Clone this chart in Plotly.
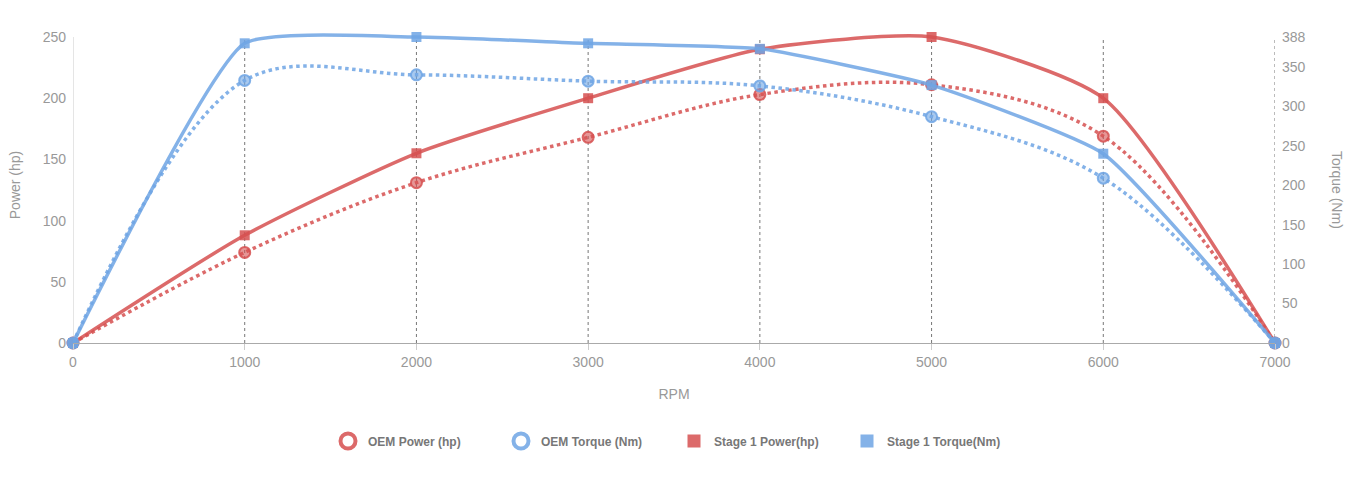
import plotly.graph_objects as go

rpm = [0, 1000, 2000, 3000, 4000, 5000, 6000, 7000]
oem_power = [0, 74, 131, 168, 203, 211, 169, 0]
oem_torque = [0, 333, 340, 332, 326, 287, 209, 0]
stage1_power = [0, 88, 155, 200, 240, 250, 200, 0]
stage1_torque = [0, 380, 388, 380, 373, 327, 240, 0]
power_ticks = [0, 50, 100, 150, 200, 250]
torque_ticks = [0, 50, 100, 150, 200, 250, 300, 350, 388]

RED = "rgba(214,80,80,0.85)"
RED_FILL = "rgba(214,80,80,0.6)"
BLUE = "rgba(110,165,228,0.85)"
BLUE_FILL = "rgba(110,165,228,0.6)"
GRAY = "#999999"
FONT = "Liberation Sans, Arial, sans-serif"

# plot area: headroom above the top tick so the smoothed lines are not clipped
TOP_PX, BOTTOM_PX, HEAD = 37, 343, 10
H = BOTTOM_PX - TOP_PX
pmax, tmax = max(power_ticks), max(torque_ticks)
prange = pmax * (H + HEAD) / H
trange = tmax * (H + HEAD) / H

fig = go.Figure()

fig.add_trace(go.Scatter(
    x=rpm, y=oem_power, name="OEM Power (hp)", mode="lines+markers", showlegend=False,
    line=dict(color=RED, width=3.5, dash="dot", shape="spline", smoothing=1),
    marker=dict(symbol="circle", size=11, color=RED_FILL, line=dict(color=RED, width=2)),
    cliponaxis=False, yaxis="y"))
fig.add_trace(go.Scatter(
    x=rpm, y=oem_torque, name="OEM Torque (Nm)", mode="lines+markers", showlegend=False,
    line=dict(color=BLUE, width=3.5, dash="dot", shape="spline", smoothing=1),
    marker=dict(symbol="circle", size=11, color=BLUE_FILL, line=dict(color=BLUE, width=2)),
    cliponaxis=False, yaxis="y2"))
fig.add_trace(go.Scatter(
    x=rpm, y=stage1_power, name="Stage 1 Power(hp)", mode="lines+markers", showlegend=False,
    line=dict(color=RED, width=3.5, shape="spline", smoothing=0.6),
    marker=dict(symbol="square", size=10, color=RED),
    cliponaxis=False, yaxis="y"))
fig.add_trace(go.Scatter(
    x=rpm, y=stage1_torque, name="Stage 1 Torque(Nm)", mode="lines+markers", showlegend=False,
    line=dict(color=BLUE, width=3.5, shape="spline", smoothing=0.45),
    marker=dict(symbol="square", size=10, color=BLUE),
    cliponaxis=False, yaxis="y2"))

# legend-only entries (point style, no line)
legend_items = [
    ("OEM Power (hp)", "circle-open", RED, 15),
    ("OEM Torque (Nm)", "circle-open", BLUE, 15),
    ("Stage 1 Power(hp)", "square", RED, 13),
    ("Stage 1 Torque(Nm)", "square", BLUE, 13),
]
for name, sym, col, sz in legend_items:
    mk = dict(symbol=sym, size=sz, color=col)
    mk["line"] = dict(color=col, width=4 if sym == "circle-open" else 0)
    fig.add_trace(go.Scatter(x=[None], y=[None], name=name, mode="markers",
                             marker=mk, showlegend=True))

# vertical dotted grid lines and left axis line, only up to the top tick
shapes = [dict(type="line", xref="x", yref="y", x0=r, x1=r, y0=0, y1=pmax,
               line=dict(color="#777777", width=1, dash="dot"), layer="below")
          for r in rpm[1:]]
shapes.append(dict(type="line", xref="x", yref="y", x0=rpm[0], x1=rpm[0], y0=0, y1=pmax,
                   line=dict(color="#cccccc", width=1), layer="below"))

fig.update_layout(
    width=1350, height=500,
    margin=dict(l=73, r=75, t=TOP_PX - HEAD, b=500 - BOTTOM_PX, autoexpand=False),
    paper_bgcolor="white", plot_bgcolor="white",
    font=dict(family=FONT, color=GRAY, size=14),
    showlegend=True,
    legend=dict(orientation="h", x=0.5, xanchor="center",
                y=-(441 - BOTTOM_PX) / (H + HEAD), yanchor="middle",
                font=dict(size=12, color="#777777", family=FONT, weight="bold"),
                itemwidth=30, entrywidth=128, entrywidthmode="pixels"),
    xaxis=dict(range=[0, 7000], tickvals=rpm, ticktext=[str(v) for v in rpm],
               showgrid=False,
               showline=True, linecolor="#aaaaaa", linewidth=1,
               ticks="outside", ticklen=6, tickcolor="#cccccc",
               zeroline=False,
               title=dict(text="RPM", font=dict(size=14, color=GRAY), standoff=20)),
    yaxis=dict(range=[0, prange], tickvals=power_ticks,
               showgrid=False, zeroline=False, showline=False,
               ticks="", ticklabelstandoff=6,
               title=dict(text="Power (hp)", font=dict(size=14, color=GRAY), standoff=18)),
    yaxis2=dict(range=[0, trange], tickvals=torque_ticks,
                overlaying="y", side="right", showgrid=False, zeroline=False,
                showline=False, ticks="", ticklabelstandoff=6),
    shapes=shapes,
    annotations=[dict(text="Torque (Nm)", textangle=90, xref="paper", yref="paper",
                      x=(1337 - 73) / (1350 - 73 - 75), y=H / 2 / (H + HEAD),
                      xanchor="center", yanchor="middle", showarrow=False,
                      font=dict(size=14, color=GRAY))],
)

fig.write_html("out.html", config={"displayModeBar": False},
               post_script="document.body.style.margin='0';")
